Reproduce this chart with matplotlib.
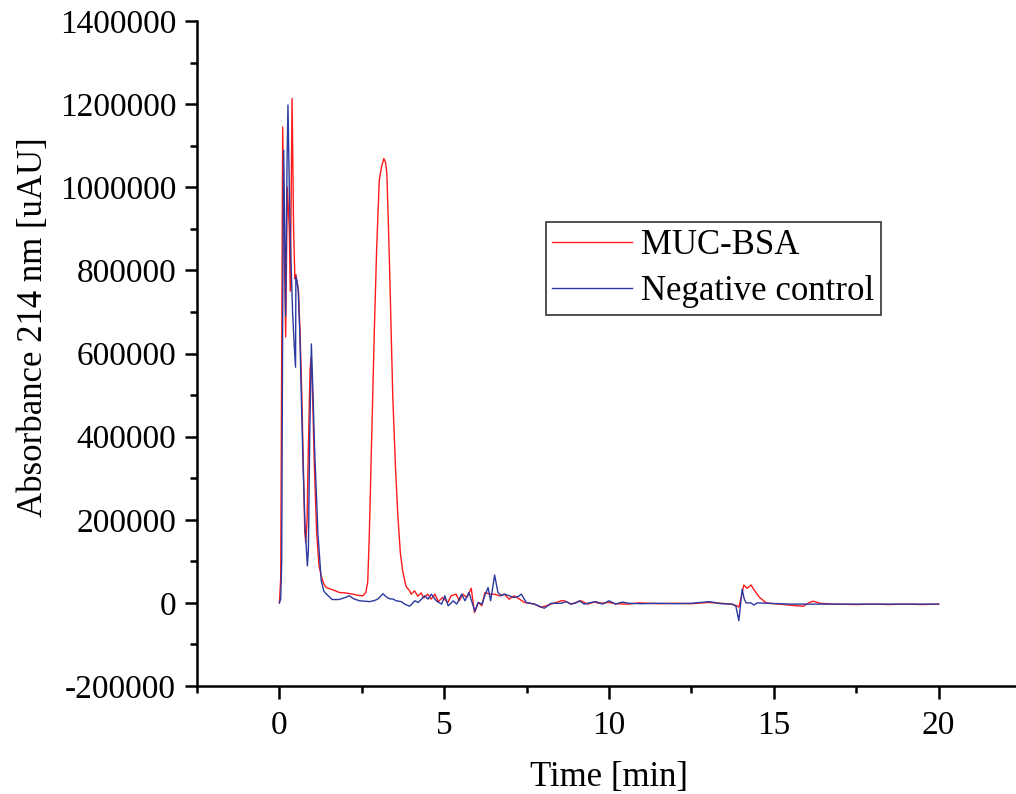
import numpy as np
import matplotlib
matplotlib.use('Agg')
import matplotlib.pyplot as plt
from matplotlib.ticker import MultipleLocator, FuncFormatter

plt.rcParams['font.family'] = ['Liberation Serif', 'DejaVu Serif']

# MUC-BSA trace (time in min, absorbance in uAU)
muc_t = [0.00, 0.04, 0.07, 0.10, 0.14, 0.19, 0.24, 0.30, 0.33, 0.385, 0.43, 0.47,
         0.50, 0.54, 0.58, 0.63, 0.68, 0.73, 0.77, 0.80, 0.84, 0.88, 0.93, 0.96,
         1.00, 1.06, 1.13, 1.20, 1.27, 1.35, 1.42, 1.60, 1.82, 2.00, 2.23, 2.40,
         2.53, 2.62, 2.68, 2.73, 2.78, 2.83, 2.88, 2.95, 3.03, 3.10, 3.17, 3.22,
         3.26, 3.30, 3.34, 3.39, 3.44, 3.52, 3.59, 3.67, 3.74, 3.84, 3.95,
         4.00, 4.10, 4.20, 4.30, 4.38, 4.50, 4.60, 4.72, 4.82, 4.95, 5.11, 5.21,
         5.36, 5.46, 5.56, 5.69, 5.82, 5.92, 6.04, 6.14, 6.24, 6.37, 6.52, 6.67,
         6.82, 6.97, 7.12, 7.28, 7.44, 7.74, 7.94, 8.24, 8.55, 8.65, 8.85, 9.15,
         9.35, 9.55, 9.70, 10.0, 10.2, 10.6, 10.9, 11.5, 12.0, 12.5, 13.0, 13.4,
         13.7, 13.85, 13.94, 14.00, 14.09, 14.19, 14.31, 14.41, 14.57, 14.77,
         15.0, 15.3, 15.68, 15.9, 16.08, 16.2, 16.4, 16.8, 17.5, 18.0, 18.5,
         19.0, 19.5, 20.0]
muc_v = [0, 60000, 600000, 1145000, 900000, 640000, 1000000, 900000, 750000,
         1214000, 900000, 780000, 790000, 770000, 750000, 640000, 500000, 320000,
         170000, 145000, 200000, 380000, 560000, 590000, 520000, 330000, 170000,
         90000, 65000, 45000, 37000, 32000, 25000, 24000, 21000, 18000, 17000,
         25000, 50000, 170000, 334000, 500000, 655000, 850000, 1017000, 1050000,
         1069000, 1060000, 1033000, 930000, 816000, 650000, 495000, 330000,
         214000, 120000, 77000, 40000, 29000,
         21000, 29000, 16000, 24000, 12000, 21000, 9000, 21000, 3000, 13000, 1000,
         17000, 21000, 5000, 21000, 13000, 35000, -23000, 1000, -7000, 25000,
         21000, 21000, 17000, 21000, 9000, 17000, 9000, 1000, -3000, -11000,
         -3000, 5000, 5000, -3000, 5000, -3000, 2000, -1000, 1000, -2000, -3000,
         0, -2000, -1000, -2000, 1000, -1000, -3000, -6000, -10000, 10000, 43000,
         35000, 43000, 30000, 13000, 0, -2000, -4000, -7000, -8000, 1000, 4000,
         -1000, -3000, -4000, -3000, -4000, -3000, -4000, -3000]

# Negative control trace
neg_t = [0.00, 0.04, 0.07, 0.10, 0.13, 0.16, 0.19, 0.23, 0.26, 0.30, 0.34, 0.40,
         0.45, 0.49, 0.50, 0.54, 0.57, 0.62, 0.67, 0.72, 0.78, 0.85, 0.88, 0.92,
         0.97, 1.02, 1.07, 1.17, 1.27, 1.35, 1.43, 1.60, 1.80, 2.00, 2.12, 2.25,
         2.43, 2.60, 2.74, 2.90, 3.00, 3.14, 3.25, 3.34, 3.45, 3.54, 3.70, 3.80,
         3.95, 4.00, 4.11, 4.21, 4.31, 4.41, 4.51, 4.61, 4.76, 4.92, 5.02, 5.12,
         5.28, 5.38, 5.53, 5.63, 5.75, 5.93, 6.03, 6.15, 6.23, 6.33, 6.41, 6.53,
         6.63, 6.73, 6.83, 6.98, 7.09, 7.24, 7.34, 7.49, 7.74, 8.04, 8.24, 8.55,
         8.70, 8.85, 9.00, 9.10, 9.25, 9.40, 9.60, 9.80, 10.0, 10.2, 10.4, 10.6,
         11.0, 11.5, 12.0, 12.5, 13.05, 13.4, 13.75, 13.85, 13.94, 14.04, 14.10,
         14.16, 14.30, 14.40, 14.50, 14.80, 15.5, 16.0, 17.0, 18.0, 19.0, 20.0]
neg_v = [0, 10000, 100000, 700000, 1089000, 900000, 690000, 1050000, 1198000,
         1000000, 850000, 700000, 620000, 567000, 784000, 770000, 752000, 648000,
         480000, 326000, 180000, 89000, 130000, 400000, 623000, 500000, 366000,
         165000, 53000, 28000, 21000, 8000, 8000, 13000, 17000, 10000, 5000, 4000,
         3000, 6000, 10000, 22000, 14000, 10000, 9000, 5000, 3000, -3000, -8000,
         -4000, 5000, 1000, 9000, 17000, 9000, 21000, 5000, -3000, 17000, -7000,
         5000, -3000, 21000, 5000, 25000, -20000, 1000, -3000, 17000, 37000, 5000,
         67000, 25000, 17000, 21000, 17000, 13000, 15000, 21000, 1000, -3000,
         -13000, -1000, -1000, 3000, -3000, 0, 5000, -3000, 0, 3000, -3000, 5000,
         -3000, 2000, -1000, -2000, -1000, -2000, -1000, 3000, -2000, -3000, -8000,
         -43000, 33000, 10000, 0, 0, -5000, 0, -1000, -3000, -3000, -3000, -3000,
         -3000, -3000]

series_names = ['MUC-BSA', 'Negative control']

fig = plt.figure(figsize=(10.16, 7.94), dpi=100)
ax = fig.add_axes([197 / 1016, 108 / 794, 824 / 1016, 665 / 794])

ax.plot(muc_t, muc_v, color='#ff1a1a', lw=1.0, label=series_names[0])
ax.plot(neg_t, neg_v, color='#2a3aa0', lw=1.0, label=series_names[1])

ax.set_xlim(-2.5, 22.5)
ax.set_ylim(-200000, 1400000)
ax.xaxis.set_major_locator(MultipleLocator(5))
ax.xaxis.set_minor_locator(MultipleLocator(2.5))
ax.yaxis.set_major_locator(MultipleLocator(200000))
ax.yaxis.set_minor_locator(MultipleLocator(100000))
ax.yaxis.set_major_formatter(FuncFormatter(lambda v, p: '%d' % round(v)))
ax.xaxis.set_major_formatter(FuncFormatter(lambda v, p: '%d' % round(v)))

ax.spines['top'].set_visible(False)
ax.spines['right'].set_visible(False)
for s in ['left', 'bottom']:
    ax.spines[s].set_linewidth(1.8)

ax.tick_params(which='major', direction='out', length=9, width=1.8, labelsize=24, pad=6)
ax.tick_params(which='minor', direction='out', length=5, width=1.8)
ax.tick_params(axis='x', which='major', pad=9)

ax.set_xlabel('Time [min]', fontsize=25, labelpad=14)
ax.set_ylabel('Absorbance 214 nm [uAU]', fontsize=25)
ax.yaxis.set_label_coords(-0.178, 0.54)

leg = ax.legend(loc='upper left', bbox_to_anchor=(0.423, 0.698), borderaxespad=0,
                fontsize=25, fancybox=False, framealpha=1, edgecolor='#333333',
                handlelength=2.3, handletextpad=0.25, borderpad=0.2,
                labelspacing=0.38)
leg.get_frame().set_linewidth(1.2)

fig.savefig('out.png', dpi=100)
